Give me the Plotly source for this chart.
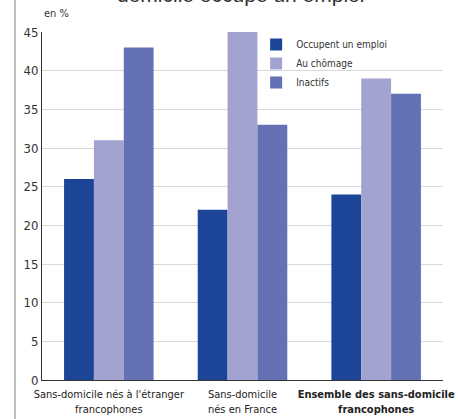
import plotly.graph_objects as go

categories = ["Sans-domicile nés à l'étranger<br>francophones",
              "Sans-domicile<br>nés en France",
              "<b>Ensemble des sans-domicile<br>francophones</b>"]
series_names = ["Occupent un emploi", "Au chômage", "Inactifs"]
emploi = [26, 22, 24]
chomage = [31, 45, 39]
inactifs = [43, 33, 37]
colors = ["#1c4497", "#a3a3d2", "#6571b5"]
yticks = [0, 5, 10, 15, 20, 25, 30, 35, 40, 45]

FONT = "DejaVu Sans Condensed, Liberation Sans, sans-serif"

fig = go.Figure()
for name, vals, col in zip(series_names, [emploi, chomage, inactifs], colors):
    fig.add_trace(go.Bar(x=categories, y=vals, name=name, marker=dict(color=col, line=dict(width=0))))

fig.update_layout(
    width=458, height=419,
    margin=dict(l=42, r=15, t=32, b=39),
    paper_bgcolor="white", plot_bgcolor="white",
    barmode="group", bargap=0.33, bargroupgap=0,
    font=dict(family=FONT, color="#333333", size=12),
    showlegend=True,
    legend=dict(x=0.534, y=1.006, xanchor="left", yanchor="top",
                bgcolor="rgba(0,0,0,0)", font=dict(size=10, color="#333333"),
                itemwidth=30, tracegroupgap=0),
    xaxis=dict(showgrid=False, showline=True, linecolor="#333333", linewidth=1,
               tickfont=dict(size=11, color="#222222"), ticks="", tickangle=0,
               ticklabelstandoff=4, automargin=False),
    yaxis=dict(range=[0, 45], tickvals=yticks, showgrid=True, gridcolor="#d9d9d9",
               showline=True, linecolor="#333333", linewidth=1, zeroline=False,
               tickfont=dict(size=13, color="#333333"), ticks="", ticklen=0,
               automargin=False),
)

fig.add_shape(type="rect", xref="paper", yref="paper", layer="between",
              x0=0.5636, x1=0.78, y0=0.819, y1=0.991,
              fillcolor="white", line=dict(width=0))
fig.add_annotation(text="en %", xref="paper", yref="paper", x=0.0, y=1.03,
                   xanchor="left", yanchor="bottom", showarrow=False,
                   font=dict(size=11, color="#333333", family=FONT))
fig.add_annotation(text="domicile occupe un emploi", xref="paper", yref="paper",
                   x=0.494, y=1.068, xanchor="center", yanchor="bottom", showarrow=False,
                   font=dict(size=21, color="#333333", family="Liberation Sans, sans-serif"))
fig.add_shape(type="line", xref="paper", yref="paper", x0=-0.0673, x1=-0.0673,
              y0=-0.2, y1=1.2, line=dict(color="#aaaaaa", width=1.5))

fig.write_html("out.html", config={"displayModeBar": False},
               post_script="document.body.style.margin='0';")
